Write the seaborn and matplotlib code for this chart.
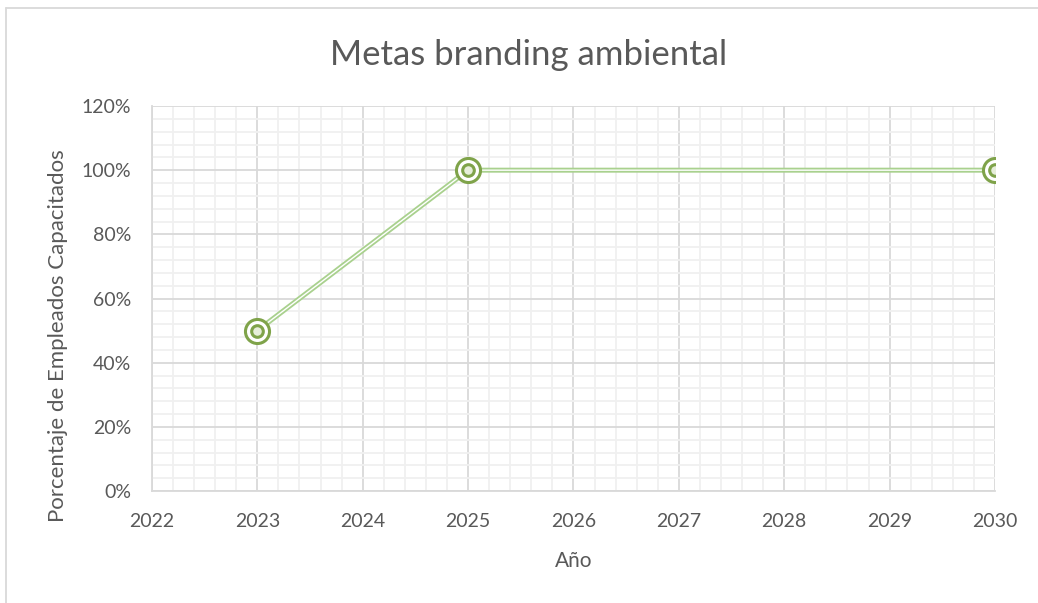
import matplotlib
matplotlib.use("Agg")
import matplotlib.pyplot as plt
import seaborn as sns
import pandas as pd
from matplotlib.ticker import MultipleLocator, FuncFormatter

# datos
anios = [2023, 2025, 2030]
porcentajes = [0.50, 1.00, 1.00]

titulo = "Metas branding ambiental"
etiqueta_x = "Año"
etiqueta_y = "Porcentaje de Empleados Capacitados"

df = pd.DataFrame({"anio": anios, "pct": porcentajes})

sns.set_style("white")
plt.rcParams["font.family"] = ["Lato", "DejaVu Sans"]

gris_texto = "#595959"
verde_linea = "#A9D18E"
verde_marca = "#7FA34A"

fig = plt.figure(figsize=(10.38, 6.03), dpi=100)
ax = fig.add_axes([0.1464, 0.1857, 0.8122, 0.6385])

# linea doble: gruesa verde con una fina blanca encima
sns.lineplot(data=df, x="anio", y="pct", ax=ax, color=verde_linea, linewidth=3.6,
             solid_capstyle="butt", zorder=3)
sns.lineplot(data=df, x="anio", y="pct", ax=ax, color="white", linewidth=1.0,
             solid_capstyle="butt", zorder=4)

# marcadores de circulo doble
sns.scatterplot(data=df, x="anio", y="pct", ax=ax, s=300, marker="o",
                facecolor="white", edgecolor=verde_marca, linewidth=2.2, zorder=5)
sns.scatterplot(data=df, x="anio", y="pct", ax=ax, s=70, marker="o",
                facecolor="#E6EEDA", edgecolor=verde_marca, linewidth=2.2, zorder=6)

ax.set_xlim(2022, 2030)
ax.set_ylim(0, 1.2)
ax.xaxis.set_major_locator(MultipleLocator(1))
ax.xaxis.set_minor_locator(MultipleLocator(0.2))
ax.yaxis.set_major_locator(MultipleLocator(0.2))
ax.yaxis.set_minor_locator(MultipleLocator(0.04))
ax.yaxis.set_major_formatter(FuncFormatter(lambda v, p: f"{v * 100:.0f}%"))
ax.xaxis.set_major_formatter(FuncFormatter(lambda v, p: f"{v:.0f}"))

ax.grid(which="major", color="#D9D9D9", linewidth=1.3)
ax.grid(which="minor", color="#F0F0F0", linewidth=1.3)
ax.set_axisbelow(True)

for lado in ["top", "right"]:
    ax.spines[lado].set_visible(False)
ax.spines["left"].set_color("#D9D9D9")
ax.spines["bottom"].set_color("#D9D9D9")
ax.spines["left"].set_linewidth(1.3)
ax.spines["bottom"].set_linewidth(1.3)

ax.tick_params(which="both", length=0, labelsize=14, colors=gris_texto)
ax.tick_params(axis="x", pad=16)
ax.tick_params(axis="y", pad=15)

ax.set_xlabel(etiqueta_x, fontsize=15, color=gris_texto)
ax.xaxis.set_label_coords(0.5, -0.155)
ax.set_ylabel(etiqueta_y, fontsize=16, color=gris_texto)
ax.yaxis.set_label_coords(-0.099, 0.403)
fig.text(0.509, 0.908, titulo, ha="center", va="center", fontsize=25, color=gris_texto)

# borde del area del grafico
fig.add_artist(plt.Line2D([0.006, 0.006], [0.0, 0.987], color="#D9D9D9", linewidth=1.3))
fig.add_artist(plt.Line2D([0.006, 1.0], [0.987, 0.987], color="#D9D9D9", linewidth=1.3))

fig.savefig("out.png", dpi=100, facecolor="white")
